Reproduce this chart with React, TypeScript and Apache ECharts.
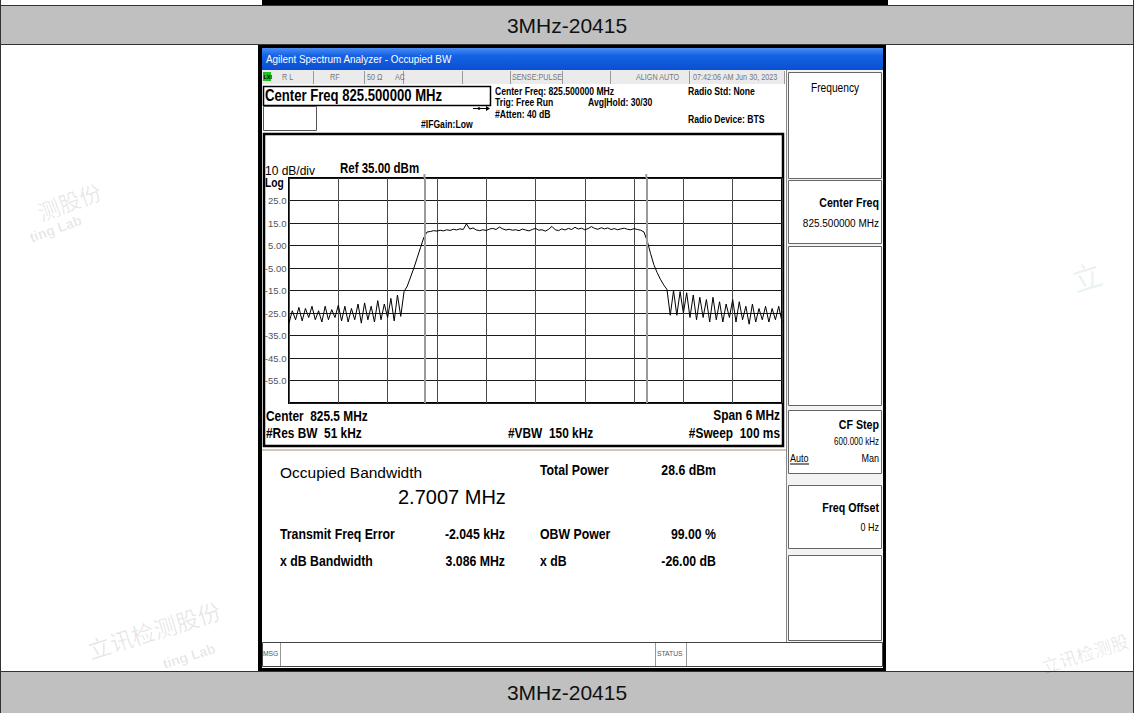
import React, { useEffect, useRef } from "react";
import * as echarts from "echarts";

// ---------- data ----------
const BAND_TITLE = "3MHz-20415";
const WINDOW_TITLE = "Agilent Spectrum Analyzer - Occupied BW";

const FREQ_START_MHZ = 822.5;
const FREQ_STEP_MHZ = 0.04;
const X_MIN = 822.5;
const X_MAX = 828.5;
const X_DIV = 0.6;
const Y_MIN = -65;
const Y_MAX = 35;
const Y_DIV = 10;
const Y_TICK_LABELS = ["25.0", "15.0", "5.00", "-5.00", "-15.0", "-25.0", "-35.0", "-45.0", "-55.0"];

const TRACE_DBM = [
  -29.5, -24, -28, -22.5, -28.5, -23, -27, -22, -28, -24,
  -29, -22, -28, -23.5, -27, -21.5, -28.5, -22, -29, -23,
  -28, -21, -29.5, -20.5, -28, -22, -29, -19.5, -28, -21,
  -27, -18.5, -28.5, -17, -26.5, -15.5,
  -13, -9, -5, -0.5, 4, 8.5, 11,
  11.2, 11.6, 11.4, 11.8, 11.5, 12.0, 11.7, 12.2, 11.9, 12.4,
  12.1, 14.6, 12.3, 12.8, 11.9, 11.6, 12.0, 11.7, 12.3, 12.6,
  12.1, 13.2, 12.4, 11.9, 12.2, 11.8, 12.0, 11.6, 12.3, 11.9,
  11.5, 12.1, 12.6, 11.8, 12.0, 11.4, 12.2, 13.5, 12.0, 11.6,
  12.4, 11.9, 12.6, 12.1, 13.1, 12.3, 12.7, 12.0, 12.5, 13.4,
  12.6, 12.2, 12.9, 12.4, 12.8, 12.1, 12.5, 12.0, 12.4, 12.7,
  12.2, 12.0, 12.5, 12.1, 11.8,
  11, 7, 1.5, -3.5, -7, -10, -12.5, -14.5,
  -26, -15, -26, -15.5, -25, -16, -27, -17, -28, -18,
  -27, -19, -29, -18, -28, -20, -29, -21, -27, -19,
  -29, -20, -28, -22, -30, -21, -29, -23, -28, -22,
  -29, -23, -28, -22, -29,
];

const OBW_MARKERS_MHZ = [824.148, 826.848];

const STATUS_TEXTS = ["R L", "RF", "50 Ω", "AC", "SENSE:PULSE", "ALIGN AUTO", "07:42:06 AM Jun 30, 2023"];
const INFO_LINES = ["Center Freq: 825.500000 MHz", "Trig: Free Run", "#Atten: 40 dB"];
const MEAS_LEFT_LABELS = ["Transmit Freq Error", "x dB Bandwidth"];
const MEAS_LEFT_VALUES = ["-2.045 kHz", "3.086 MHz"];
const MEAS_RIGHT_LABELS = ["Total Power", "OBW Power", "x dB"];
const MEAS_RIGHT_VALUES = ["28.6 dBm", "99.00 %", "-26.00 dB"];

// ---------- helpers ----------
const SANS = "'Liberation Sans',Arial,sans-serif";
const CJK = "'Noto Sans CJK SC',sans-serif";

function txt(x: number, y: number, text: string, size: number, o: any = {}) {
  const align = o.align || "left";
  return {
    type: "text",
    x,
    y,
    rotation: o.rotation || 0,
    scaleX: o.sx ?? 0.82,
    silent: true,
    z: 5,
    style: {
      text,
      fill: o.color || "#000",
      fontSize: size,
      fontWeight: o.weight || "normal",
      fontFamily: o.family || SANS,
      align,
      verticalAlign: "middle",
      textAlign: align,
      textVerticalAlign: "middle",
    },
  };
}
function rect(x: number, y: number, w: number, h: number, fill: any, stroke?: string, lw = 1, z = -5) {
  return {
    type: "rect",
    silent: true,
    z,
    shape: { x, y, width: w, height: h },
    style: { fill, stroke: stroke || null, lineWidth: stroke ? lw : 0 },
  };
}
function line(x1: number, y1: number, x2: number, y2: number, stroke: string, lw = 1, z = -4) {
  return { type: "line", silent: true, z, shape: { x1, y1, x2, y2 }, style: { stroke, lineWidth: lw } };
}

function buildGraphics() {
  const g: any[] = [];
  // page
  g.push(rect(0, 0, 1134, 713, "#fff", undefined, 1, -9));
  g.push(rect(1, 5, 1132, 40, "#c0c0c0", undefined, 1, -8));
  g.push(rect(1, 671, 1132, 42, "#c0c0c0", undefined, 1, -8));
  g.push(rect(262, 0, 626, 5, "#000", undefined, 1, -7));
  g.push(line(0, 5.5, 1134, 5.5, "#333", 1, -7));
  g.push(line(0, 44.5, 1134, 44.5, "#333", 1, -7));
  g.push(line(0, 671.5, 1134, 671.5, "#333", 1, -7));
  g.push(line(0.5, 0, 0.5, 713, "#333", 1, -7));
  g.push(line(1133.5, 0, 1133.5, 713, "#333", 1, -7));
  g.push(txt(567, 25, BAND_TITLE, 21, { align: "center", color: "#111", sx: 1 }));
  g.push(txt(567, 692, BAND_TITLE, 21, { align: "center", color: "#111", sx: 1 }));

  // watermarks
  const wm = "rgba(0,0,0,0.1)";
  g.push(txt(38, 212, "测股份", 22, { family: CJK, color: wm, rotation: 0.35, sx: 1 }));
  g.push(txt(30, 238, "ting Lab", 14, { color: wm, rotation: 0.35, weight: "bold", sx: 1 }));
  g.push(txt(88, 650, "立讯检测股份", 23, { family: CJK, color: wm, rotation: 0.3, sx: 1 }));
  g.push(txt(163, 664, "ting Lab", 14, { color: wm, rotation: 0.3, weight: "bold", sx: 1 }));
  g.push(txt(1072, 280, "立", 30, { family: CJK, color: "rgba(0,140,70,0.1)", rotation: 0.3, sx: 1 }));
  g.push(txt(1042, 666, "立讯检测股", 18, { family: CJK, color: wm, rotation: 0.3, sx: 1 }));

  // analyzer frame
  g.push(rect(258, 45, 628, 626, "#000", undefined, 1, -7));
  g.push(rect(262, 48, 621, 620, "#fff", undefined, 1, -6));
  g.push(
    rect(262, 48, 621, 22, {
      type: "linear", x: 0, y: 0, x2: 0, y2: 1,
      colorStops: [
        { offset: 0, color: "#4a8cf0" },
        { offset: 0.35, color: "#1462e6" },
        { offset: 1, color: "#0a4fd0" },
      ],
    }, undefined, 1, -5)
  );
  g.push(txt(266, 59, WINDOW_TITLE, 11, { color: "#fff", sx: 0.9 }));

  // status row
  g.push(rect(262, 70, 522, 14, "#ebebeb", undefined, 1, -5));
  [313, 364, 403, 462, 510, 562, 610, 689, 784].forEach((x) => g.push(line(x + 0.5, 71, x + 0.5, 84, "#9a9a9a")));
  g.push(rect(263, 72, 8, 9, "#20c020", undefined, 1, -4));
  g.push(txt(263.5, 77, "LXI", 5.5, { color: "#000", weight: "bold", sx: 1 }));
  const statusX = [282, 330, 367, 395, 512, 636, 693];
  STATUS_TEXTS.forEach((t, i) => g.push(txt(statusX[i], 77.5, t, 8.5, { color: "#777", sx: 0.85 })));

  // header
  g.push(rect(263.5, 86.5, 227, 19, "#fff", "#000", 1.5, -4));
  g.push(txt(265, 96, "Center Freq 825.500000 MHz", 16, { weight: "bold" }));
  g.push(rect(263.5, 106.5, 53, 24, "#fff", "#555", 1, -4));
  g.push(line(473, 108.5, 487, 108.5, "#000", 1, 4));
  g.push({ type: "circle", silent: true, z: 4, shape: { cx: 479, cy: 108.5, r: 1.3 }, style: { fill: "#000" } });
  g.push({ type: "polygon", silent: true, z: 4, shape: { points: [[486, 106], [490, 108.5], [486, 111]] }, style: { fill: "#000" } });
  g.push(txt(421, 124, "#IFGain:Low", 10.5, { weight: "bold" }));
  g.push(txt(495, 91, INFO_LINES[0], 10.5, { weight: "bold" }));
  g.push(txt(495, 102.5, INFO_LINES[1], 10.5, { weight: "bold" }));
  g.push(txt(495, 114, INFO_LINES[2], 10.5, { weight: "bold" }));
  g.push(txt(588, 102.5, "Avg|Hold: 30/30", 10.5, { weight: "bold" }));
  g.push(txt(688, 91, "Radio Std: None", 10.5, { weight: "bold" }));
  g.push(txt(688, 119, "Radio Device: BTS", 10.5, { weight: "bold" }));

  // plot panel
  g.push(rect(264, 134, 519, 312, "#fff", "#000", 2.5, -4));
  g.push(txt(265, 171, "10 dB/div", 12, { sx: 1 }));
  g.push(txt(340, 168, "Ref 35.00 dBm", 14, { weight: "bold" }));
  g.push(txt(265, 183, "Log", 12, { weight: "bold", sx: 0.85 }));
  g.push(txt(266, 416, "Center  825.5 MHz", 14.5, { weight: "bold" }));
  g.push(txt(266, 433, "#Res BW  51 kHz", 14.5, { weight: "bold" }));
  g.push(txt(508, 433, "#VBW  150 kHz", 14.5, { weight: "bold" }));
  g.push(txt(780, 415, "Span 6 MHz", 14.5, { weight: "bold", align: "right" }));
  g.push(txt(780, 433, "#Sweep  100 ms", 14.5, { weight: "bold", align: "right" }));

  // measurement area
  g.push(line(262, 450, 786, 450, "#cfc7b5", 2, -3));
  g.push(txt(280, 472, "Occupied Bandwidth", 15.5, { sx: 1 }));
  g.push(txt(398, 497, "2.7007 MHz", 20, { sx: 1 }));
  [534, 561].forEach((y, i) => {
    g.push(txt(280, y, MEAS_LEFT_LABELS[i], 15, { weight: "bold" }));
    g.push(txt(505, y, MEAS_LEFT_VALUES[i], 15, { weight: "bold", align: "right" }));
  });
  [470, 534, 561].forEach((y, i) => {
    g.push(txt(540, y, MEAS_RIGHT_LABELS[i], 15, { weight: "bold" }));
    g.push(txt(716, y, MEAS_RIGHT_VALUES[i], 15, { weight: "bold", align: "right" }));
  });

  // softkey panel
  g.push(rect(786, 70, 97, 572, "#f3f3f3", undefined, 1, -5));
  g.push(line(786.5, 70, 786.5, 642, "#888"));
  const boxes = [[72, 178], [180, 243], [246, 405], [410, 473], [485, 548], [555, 640]];
  boxes.forEach(([a, b]) => g.push(rect(788.5, a + 0.5, 93, b - a, "#fff", "#666", 1, -4)));
  g.push(txt(835, 88, "Frequency", 12, { align: "center", sx: 0.85 }));
  g.push(txt(879, 203, "Center Freq", 13, { weight: "bold", align: "right" }));
  g.push(txt(879, 223, "825.500000 MHz", 10, { align: "right", sx: 1 }));
  g.push(txt(879, 425, "CF Step", 13, { weight: "bold", align: "right" }));
  g.push(txt(879, 442, "600.000 kHz", 10, { align: "right", sx: 0.8 }));
  g.push(txt(790, 458, "Auto", 10, { sx: 0.9 }));
  g.push(line(790, 464, 809, 464, "#000", 1, 4));
  g.push(txt(879, 458, "Man", 10, { align: "right", sx: 0.9 }));
  g.push(txt(879, 508, "Freq Offset", 13, { weight: "bold", align: "right" }));
  g.push(txt(879, 527, "0 Hz", 10, { align: "right", sx: 0.9 }));

  // message bar
  g.push(rect(262.5, 642.5, 620, 24, "#fff", "#444", 1, -4));
  [280, 655, 686].forEach((x) => g.push(line(x + 0.5, 643, x + 0.5, 666, "#999")));
  g.push(txt(263, 654, "MSG", 7.5, { color: "#555", sx: 0.9 }));
  g.push(txt(657, 654, "STATUS", 7.5, { color: "#555", sx: 0.9 }));
  return g;
}

export default function App() {
  const ref = useRef<HTMLDivElement>(null);
  useEffect(() => {
    if (!ref.current) return;
    const chart = echarts.init(ref.current, undefined, { renderer: "svg" });
    const traceData = TRACE_DBM.map((v, i) => [FREQ_START_MHZ + i * FREQ_STEP_MHZ, v]);
    const graphics = buildGraphics();
    chart.setOption({
      animation: false,
      backgroundColor: "#fff",
      graphic: { elements: graphics },
      grid: {
        left: 289,
        top: 178,
        width: 493,
        height: 225,
        show: true,
        borderColor: "#000",
        borderWidth: 2,
        backgroundColor: "#fff",
        containLabel: false,
      },
      xAxis: {
        type: "value",
        min: X_MIN,
        max: X_MAX,
        interval: X_DIV,
        axisLabel: { show: false },
        axisTick: { show: false },
        axisLine: { show: false },
        splitLine: { show: true, lineStyle: { color: "#4a4a4a", width: 1 } },
      },
      yAxis: {
        type: "value",
        min: Y_MIN,
        max: Y_MAX,
        interval: Y_DIV,
        axisTick: { show: false },
        axisLine: { show: false },
        splitLine: { show: true, lineStyle: { color: "#1a1a1a", width: 1 } },
        axisLabel: {
          margin: 2.5,
          color: "#555",
          fontSize: 9.5,
          fontFamily: SANS,
          formatter: (v: number) => {
            const idx = Math.round((Y_MAX - v) / Y_DIV) - 1;
            return Y_TICK_LABELS[idx] ?? "";
          },
        },
      },
      series: [
        {
          type: "line",
          data: traceData,
          showSymbol: false,
          symbol: "none",
          lineStyle: { color: "#000", width: 1 },
          z: 3,
          markLine: {
            silent: true,
            symbol: "none",
            label: { show: false },
            lineStyle: { color: "#9a9a9a", width: 2, type: "solid" },
            data: OBW_MARKERS_MHZ.map((f) => ({ xAxis: f })),
          },
        },
      ],
    });
    // short marker stubs above the graticule, positioned via the chart's own scale
    const stubs = OBW_MARKERS_MHZ.map((f) => {
      const p = chart.convertToPixel({ gridIndex: 0 }, [f, Y_MAX]) as number[];
      return { type: "line", silent: true, z: 6, shape: { x1: p[0], y1: p[1] - 4, x2: p[0], y2: p[1] }, style: { stroke: "#9a9a9a", lineWidth: 2 } };
    });
    chart.setOption({ graphic: { elements: [...graphics, ...stubs] } });
    return () => chart.dispose();
  }, []);
  return <div ref={ref} style={{ position: "absolute", left: 0, top: 0, width: 1134, height: 713 }} />;
}
